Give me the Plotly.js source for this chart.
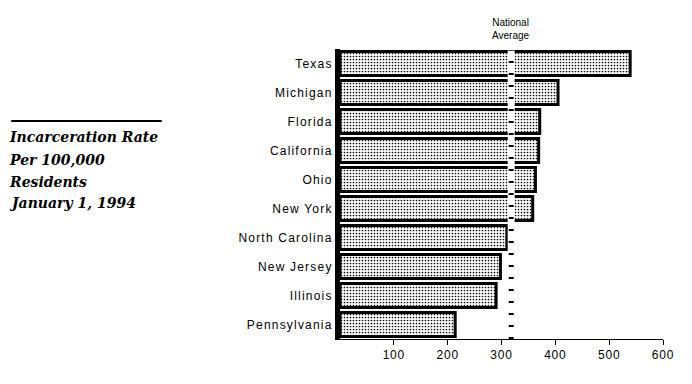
<!DOCTYPE html>
<html>
<head>
<meta charset="utf-8">
<script src="https://cdn.plot.ly/plotly-3.0.1.min.js"></script>
<style>
html,body{margin:0;padding:0;background:#fff;}
#chart{width:692px;height:384px;}
#chart .ytick text{letter-spacing:1.2px;}
#chart .xtick text{letter-spacing:0.8px;}
</style>
</head>
<body>
<div id="chart"></div>
<script>
const states = ["Texas","Michigan","Florida","California","Ohio","New York","North Carolina","New Jersey","Illinois","Pennsylvania"];
const rates = [539, 405, 371, 369, 363, 358, 310, 298, 290, 214];
const nationalAverage = 318;
const xTicks = [100, 200, 300, 400, 500, 600];
const titleLines = ["Incarceration Rate", "Per 100,000", "Residents", "January 1, 1994"];

const trace = {
  type: 'bar',
  orientation: 'h',
  y: states,
  x: rates,
  width: 0.82,
  marker: {
    color: '#ffffff',
    line: {color: '#000000', width: 3},
    pattern: {shape: '.', fgcolor: '#000000', bgcolor: '#ffffff', size: 3, solidity: 0.25}
  },
  hoverinfo: 'none'
};

const layout = {
  width: 692, height: 384,
  margin: {l: 340, r: 29, t: 49, b: 45},
  paper_bgcolor: '#fff', plot_bgcolor: '#fff',
  showlegend: false,
  font: {family: 'Liberation Sans, Arial, sans-serif', color: '#000', size: 12},
  xaxis: {
    range: [0, 600], tickvals: xTicks, ticktext: xTicks.map(String),
    showgrid: false, zeroline: false,
    showline: true, linecolor: '#000', linewidth: 1,
    ticks: 'outside', ticklen: 5, tickwidth: 1, tickcolor: '#000',
    tickfont: {size: 12, family: 'Liberation Sans, Arial, sans-serif'}
  },
  yaxis: {
    autorange: 'reversed', showgrid: false, zeroline: false,
    showline: true, linecolor: '#000', linewidth: 5,
    ticks: '', ticklabelstandoff: 0,
    tickfont: {size: 12, family: 'Liberation Sans, Arial, sans-serif'}
  },
  shapes: [
    {type: 'line', xref: 'x', yref: 'paper', x0: nationalAverage, x1: nationalAverage, y0: 0, y1: 0.995,
     line: {color: '#ffffff', width: 7}, layer: 'above'},
    {type: 'line', xref: 'x', yref: 'paper', x0: nationalAverage, x1: nationalAverage, y0: 0, y1: 0.995,
     line: {color: '#000000', width: 5, dash: '2px,10px'}, layer: 'above'},
    {type: 'line', xref: 'paper', yref: 'paper', x0: -1.018, x1: -0.552, y0: 0.752, y1: 0.752,
     line: {color: '#000', width: 2}}
  ],
  annotations: [
    {xref: 'x', yref: 'paper', x: nationalAverage, y: 1.02, yanchor: 'bottom', xanchor: 'center',
     text: 'National<br>Average', showarrow: false, align: 'center',
     font: {size: 10, family: 'Liberation Sans, Arial, sans-serif'}}
  ]
};

const lineY = [137, 160, 182, 203];
titleLines.forEach((t, i) => {
  layout.annotations.push({
    xref: 'paper', yref: 'paper', x: -1.018, xanchor: 'left', xshift: -4,
    y: (339 - lineY[i]) / 290, yanchor: 'middle', text: '<b><i>' + t + '</i></b>', showarrow: false,
    font: {size: 14, family: 'DejaVu Serif, serif'}
  });
});

Plotly.newPlot('chart', [trace], layout, {staticPlot: true, displayModeBar: false});
</script>
</body>
</html>
